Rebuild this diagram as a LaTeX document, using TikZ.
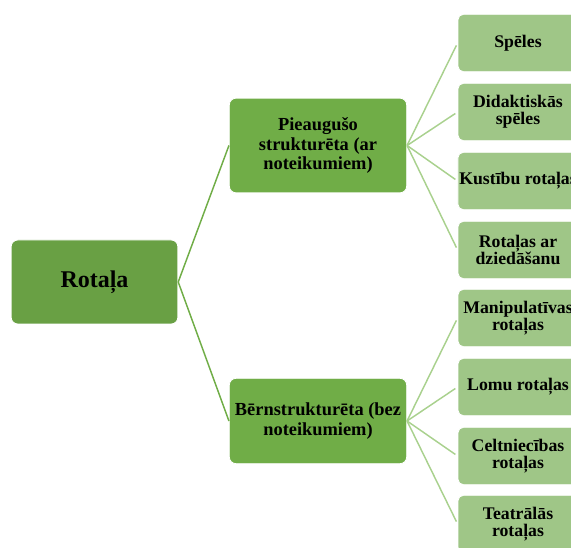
\documentclass[tikz,border=0pt]{standalone}
\usepackage{fontspec}
\setmainfont{Liberation Serif}
\usepackage{xcolor}
\usetikzlibrary{calc}

\definecolor{rootgreen}{HTML}{69A044}
\definecolor{midgreen}{HTML}{70AD47}
\definecolor{leafgreen}{HTML}{9FC687}
\definecolor{leafline}{HTML}{A9D18E}

\begin{document}
\begin{tikzpicture}[x=0.75pt, y=-0.75pt]
        % ================= styles =================
        \tikzset{
            % root box
            rootbox/.style={rectangle, rounded corners=5pt, fill=rootgreen, draw=white, line width=0.6pt,
                minimum width=125pt, minimum height=63pt, inner sep=2pt, align=center,
                font=\fontsize{18}{20}\selectfont\bfseries},
            % second level boxes
            midbox/.style={rectangle, rounded corners=5pt, fill=midgreen, draw=white, line width=0.6pt,
                minimum width=133pt, inner sep=1pt, align=center,
                font=\fontsize{13.8}{14.5}\selectfont\bfseries},
            % leaf boxes
            leafbox/.style={rectangle, rounded corners=4pt, fill=leafgreen, draw=white, line width=0.6pt,
                minimum width=90pt, minimum height=43pt, inner sep=1pt, align=center,
                font=\fontsize{13.3}{13}\selectfont\bfseries},
            % connectors
            rootedge/.style={line width=1.1pt, midgreen},
            leafedge/.style={line width=1.1pt, leafline, shorten >=2pt}
        }

        % ================= frame =================
        \useasboundingbox (0,0) rectangle (571,548);
        \clip (0,0) rectangle (571,548);

        % ================= coordinates =================
        \coordinate (root_p) at (94.5,282);
        \coordinate (adult_p) at (318,145.5);
        \coordinate (child_p) at (318,421);

        % ================= boxes =================
        \node[rootbox] (root) at (root_p) {Rotaļa};
        \node[midbox, minimum height=71pt] (adult) at (adult_p) {Pieaugušo\\strukturēta (ar\\noteikumiem)};
        \node[midbox, minimum height=64pt] (child) at (child_p) {Bērnstrukturēta (bez\\noteikumiem)};

        % upper leaves
        \node[leafbox] (speles) at (518,43) {Spēles};
        \node[leafbox] (didakt) at (518,112) {Didaktiskās\\spēles};
        \node[leafbox] (kustibu) at (518,181) {Kustību rotaļas};
        \node[leafbox] (dzied) at (518,250) {Rotaļas ar\\dziedāšanu};

        % lower leaves
        \node[leafbox] (manip) at (518,318) {Manipulatīvas\\rotaļas};
        \node[leafbox] (lomu) at (518,387) {Lomu rotaļas};
        \node[leafbox] (celtn) at (518,456) {Celtniecības\\rotaļas};
        \node[leafbox] (teatr) at (518,524) {Teatrālās\\rotaļas};

        % ================= connectors =================
        \draw[rootedge] (root.east) -- (adult.west);
        \draw[rootedge] (root.east) -- (child.west);

        \foreach \leaf in {speles, didakt, kustibu, dzied}
            \draw[leafedge] (adult.east) -- (\leaf.west);
        \foreach \leaf in {manip, lomu, celtn, teatr}
            \draw[leafedge] (child.east) -- (\leaf.west);

\end{tikzpicture}
\end{document}
